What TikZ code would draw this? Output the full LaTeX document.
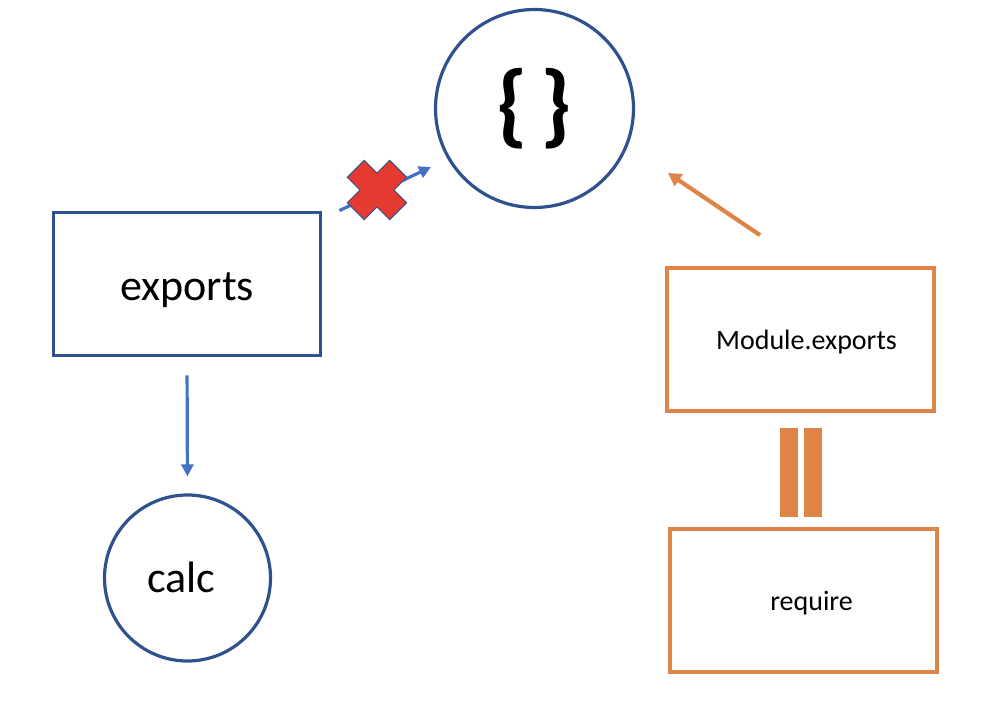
\documentclass[tikz,border=0pt]{standalone}
\usepackage{fontspec}
\setmainfont{Carlito}
\usetikzlibrary{arrows.meta,calc}
\definecolor{dblue}{RGB}{47,82,143}
\definecolor{lblue}{RGB}{68,114,196}
\definecolor{orng}{RGB}{223,131,70}
\definecolor{xred}{RGB}{228,58,48}
\begin{document}
\begin{tikzpicture}[x=1pt,y=-1pt,
  bluebox/.style={draw=dblue,line width=3.8pt,rectangle,minimum width=267pt,minimum height=143pt,inner sep=0pt},
  orangebox/.style={draw=orng,line width=3.8pt,rectangle,minimum width=267pt,minimum height=143pt,inner sep=0pt},
  bluecirc/.style={draw=dblue,line width=3.2pt,circle,inner sep=0pt},
  bluearrow/.style={draw=lblue,line width=3.2pt,-{Triangle[length=12pt,width=12pt]}},
  orangearrow/.style={draw=orng,line width=4.2pt,-{Triangle[length=13pt,width=14pt]}},
  bar/.style={fill=orng,draw=none,minimum width=18pt,minimum height=89pt,inner sep=0pt}]
\useasboundingbox (0,0) rectangle (982,722);
\node[bluecirc,minimum size=198pt] (top) at (534.5,108.5) {\fontsize{92}{100}\selectfont\bfseries\{\hspace{12pt}\}};
\node[bluebox,text height=40pt,text depth=8pt] (exports) at (187,284) {\fontsize{44}{50}\selectfont exports};
\node[bluecirc,minimum size=166pt,text height=34pt,text depth=6pt] (calc) at (187.5,578) {\fontsize{44}{50}\selectfont calc\hspace*{12pt}};
\node[orangebox,text height=24pt,text depth=5pt] (mod) at (800.5,339.5) {\fontsize{28}{32}\selectfont\hspace*{12pt}Module.exports};
\node[orangebox,text height=24pt,text depth=5pt] (req) at (803.5,600.5) {\fontsize{28}{32}\selectfont\hspace*{16pt}require};
\node[bar] (bar1) at (789,472.5) {};
\node[bar] (bar2) at (813,472.5) {};
\draw[bluearrow,shorten <=18pt,shorten >=17pt] (exports.south) -- (calc.north);
\draw[bluearrow] ([shift={(17,0)}]exports.north east) -- ([shift={(-103.5,58.5)}]top.center);
\draw[orangearrow] ([shift={(-40.5,-31)}]mod.north) -- ([shift={(133.5,64.5)}]top.center);
\begin{scope}[shift={(377,190)},rotate=45]
\filldraw[fill=xred,draw=dblue,line width=1pt]
 (12,12) -- (30,12) -- (30,-12) -- (12,-12) -- (12,-30) -- (-12,-30) -- (-12,-12) -- (-30,-12) -- (-30,12) -- (-12,12) -- (-12,30) -- (12,30) -- cycle;
\end{scope}
\end{tikzpicture}
\end{document}
